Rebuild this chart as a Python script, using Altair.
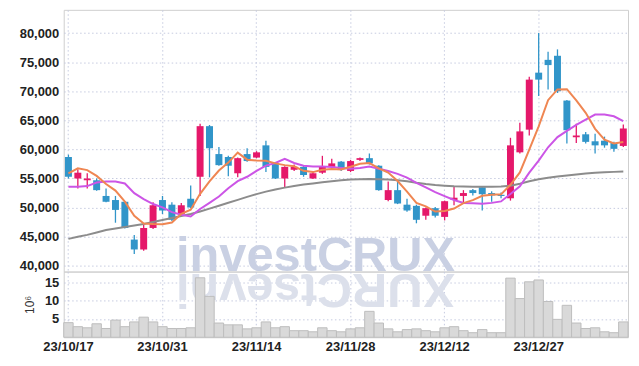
import altair as alt
import pandas as pd

dates = [
    "23/10/17", "23/10/18", "23/10/19", "23/10/20", "23/10/23", "23/10/24", "23/10/25", "23/10/26", "23/10/27", "23/10/30",
    "23/10/31", "23/11/01", "23/11/02", "23/11/03", "23/11/06", "23/11/07", "23/11/08", "23/11/09", "23/11/10", "23/11/13",
    "23/11/14", "23/11/15", "23/11/16", "23/11/17", "23/11/20", "23/11/21", "23/11/22", "23/11/23", "23/11/24", "23/11/27",
    "23/11/28", "23/11/29", "23/11/30", "23/12/01", "23/12/04", "23/12/05", "23/12/06", "23/12/07", "23/12/08", "23/12/11",
    "23/12/12", "23/12/13", "23/12/14", "23/12/15", "23/12/18", "23/12/19", "23/12/20", "23/12/21", "23/12/22", "23/12/26",
    "23/12/27", "23/12/28", "24/01/02", "24/01/03", "24/01/04", "24/01/05", "24/01/08", "24/01/09", "24/01/10", "24/01/11",
]
tick_labels = ["23/10/17", "23/10/31", "23/11/14", "23/11/28", "23/12/12", "23/12/27"]

opens = [58700, 55000, 54700, 54700, 52000, 51300, 51000, 44500, 42800, 46500,
         51300, 50500, 48900, 51500, 55300, 64000, 59200, 58700, 55900, 59200,
         58600, 60700, 57600, 55000, 56500, 57000, 55000, 56000, 57000, 57900,
         56300, 58200, 58500, 57200, 51300, 53000, 50500, 50300, 48600, 49900,
         48400, 51300, 52000, 53000, 53500, 52500, 52200, 51600, 59500, 63400,
         73200, 75400, 76100, 68400, 62100, 62600, 61400, 61500, 61100, 60600]
highs = [59100, 56600, 55900, 55000, 53300, 52000, 51100, 45300, 47000, 50900,
         52000, 50900, 50800, 53800, 64400, 64200, 60400, 58900, 58600, 60200,
         59700, 61500, 57700, 57100, 57400, 57200, 56100, 58900, 58400, 58000,
         58200, 58600, 59300, 57300, 54500, 54600, 51500, 50500, 50000, 50100,
         51200, 53600, 53000, 53200, 53500, 52800, 52600, 62000, 64600, 72500,
         80000, 76800, 77200, 68500, 64400, 63000, 62700, 62200, 61300, 64300]
lows = [55000, 53300, 53300, 52900, 50900, 47400, 46400, 42000, 42600, 46300,
        48900, 47700, 48700, 49900, 52000, 55200, 57200, 55400, 55200, 57900,
        58500, 56100, 54900, 53500, 56300, 55300, 54900, 55800, 56800, 56300,
        56100, 58000, 57400, 52900, 51100, 50600, 49300, 47300, 47900, 48300,
        47800, 50400, 50900, 52100, 49500, 51000, 51600, 51200, 59300, 62400,
        69200, 70300, 69700, 61000, 61100, 61000, 59300, 60300, 59600, 60400]
closes = [55300, 56000, 55000, 53000, 51000, 49600, 46500, 42800, 46500, 50400,
          49500, 47900, 50400, 50000, 64000, 60200, 57300, 57200, 58500, 58000,
          59500, 57000, 55000, 57000, 57000, 55600, 55900, 57000, 57600, 56600,
          58000, 58500, 57600, 53000, 53000, 50700, 49500, 47900, 49900, 48600,
          51100, 51700, 52500, 52500, 52300, 52100, 52000, 60700, 63100, 72000,
          72000, 74500, 70000, 63300, 62400, 61300, 60700, 60700, 60100, 63600]
ma5 = [55900, 56750, 56450, 55450, 54060, 52920, 51020, 48580, 47280, 47160,
       47140, 47420, 48940, 49640, 52360, 54500, 56380, 57740, 59440, 58240,
       58100, 58040, 57600, 57300, 57100, 56320, 56100, 56500, 56620, 56540,
       57020, 57540, 57660, 56740, 56020, 54560, 52760, 50820, 50200, 49320,
       49400, 49840, 50760, 51280, 52020, 52220, 52280, 53920, 56040, 59980,
       63960, 68460, 70320, 70360, 68440, 66300, 63540, 61680, 61040, 61280]
ma10 = [53600, 53600, 53700, 54300, 54480, 54480, 54140, 52480, 51460, 50610,
        50030, 49220, 48760, 48460, 49760, 50820, 51900, 53340, 54540, 55300,
        56300, 57210, 57670, 58370, 57670, 57210, 57070, 57050, 56960, 56820,
        56670, 56820, 57080, 56680, 56280, 55790, 55150, 54240, 53470, 52670,
        51980, 51300, 50790, 50740, 50670, 50810, 51060, 52340, 53660, 56000,
        58090, 60370, 62120, 63200, 64210, 65130, 66000, 66000, 65700, 64860]
ma60 = [44620, 44970, 45310, 45730, 46160, 46420, 46670, 46930, 47190, 47530,
        47870, 48210, 48550, 48900, 49320, 49820, 50320, 50830, 51320, 51840,
        52310, 52740, 53120, 53430, 53720, 53960, 54160, 54370, 54540, 54710,
        54830, 54880, 54910, 54880, 54830, 54710, 54540, 54280, 54060, 53890,
        53770, 53680, 53630, 53600, 53580, 53580, 53630, 53770, 54110, 54540,
        54880, 55130, 55340, 55510, 55680, 55850, 55970, 56070, 56140, 56190]
volumes = [4.0, 2.9, 2.6, 3.7, 2.4, 4.7, 2.9, 4.2, 5.5, 4.2,
           2.9, 2.4, 2.4, 2.6, 16.3, 11.2, 3.9, 3.4, 3.4, 2.3,
           2.6, 4.2, 2.6, 2.9, 1.8, 1.8, 1.5, 2.6, 1.8, 1.5,
           2.3, 2.6, 7.1, 3.9, 2.3, 1.5, 2.1, 2.3, 1.8, 1.5,
           2.6, 2.9, 1.8, 1.25, 2.1, 1.25, 1.25, 16.2, 10.6, 15.2,
           15.7, 9.8, 4.9, 8.75, 3.9, 2.4, 2.6, 1.5, 1.25, 4.2]
price_ticks = [40000, 45000, 50000, 55000, 60000, 65000, 70000, 75000, 80000]
vol_ticks = [5, 10, 15]
watermark = ["investCRUX"]

df = pd.DataFrame({
    "date": dates, "open": opens, "high": highs, "low": lows, "close": closes,
    "ma5": ma5, "ma10": ma10, "ma60": ma60, "vol": volumes,
})
wm = pd.DataFrame({"t": watermark, "r": [w[::-1] for w in watermark]})

RED = "#e5186a"
BLUE = "#3195c9"
FONT = "Liberation Sans"
W, H1, H2 = 567, 263, 66

xscale = alt.Scale(paddingInner=0, paddingOuter=0)
grid_kw = dict(grid=True, gridColor="#c6cbe0", gridDash=[1.5, 2.5], gridWidth=1)

x_top = alt.X("date:O", sort=None, scale=xscale,
              axis=alt.Axis(values=tick_labels, labels=False, ticks=False, domain=False,
                            title=None, **grid_kw))
x_bot = alt.X("date:O", sort=None, scale=xscale,
              axis=alt.Axis(values=tick_labels, labelAngle=0, ticks=False, domain=False,
                            title=None, labelPadding=3, labelFont=FONT, labelFontSize=13,
                            labelColor="#222222", labelFontWeight="bold", **grid_kw))

pscale = alt.Scale(domain=[39000, 84000], nice=False, zero=False)
yaxis = alt.Axis(values=price_ticks, format=",.0f", title=None, ticks=False, domain=False,
                 labelPadding=5, labelFont=FONT, labelFontSize=13, labelColor="#222222",
                 labelFontWeight="bold", **grid_kw)

def py(field):
    return alt.Y(field, type="quantitative", scale=pscale, axis=yaxis)

color = alt.condition("datum.close >= datum.open", alt.value(RED), alt.value(BLUE))
base = alt.Chart(df)

wm_top = alt.Chart(wm).mark_text(
    font=FONT, fontSize=49, fontWeight="bold", color="#c9d0e3",
    align="center", baseline="alphabetic"
).encode(text="t:N", x=alt.value(253), y=alt.value(262))

wicks = base.mark_rule(strokeWidth=1.3).encode(
    x=x_top, y=py("low"), y2="high:Q", color=color)
bodies = base.mark_bar(width=alt.RelativeBandSize(0.74)).encode(
    x=x_top, y=py("open"), y2="close:Q", color=color)
l60 = base.mark_line(color="#8c8c8c", strokeWidth=2).encode(x=x_top, y=py("ma60"))
l10 = base.mark_line(color="#cc55e6", strokeWidth=2).encode(x=x_top, y=py("ma10"))
l5 = base.mark_line(color="#ef8652", strokeWidth=2).encode(x=x_top, y=py("ma5"))

top = alt.layer(wm_top, wicks, bodies, l60, l10, l5).properties(width=W, height=H1)

wm_bot = alt.Chart(wm).mark_text(
    font=FONT, fontSize=49, fontWeight="bold", color="#dce0eb",
    align="center", baseline="alphabetic", angle=180
).encode(text="r:N", x=alt.value(253), y=alt.value(2))

vbars = base.mark_bar(color="#d9d9d9", stroke="#bdbdbd", strokeWidth=1).encode(
    x=x_bot,
    y=alt.Y("vol:Q", scale=alt.Scale(domain=[0, 18], nice=False),
            axis=alt.Axis(values=vol_ticks, title="10⁶", titleAngle=-90, titleX=-34,
                          titleY=33, titleAlign="center", titleBaseline="middle",
                          titleFont=FONT, titleFontSize=12, titleFontWeight="normal",
                          titleColor="#333333", ticks=False, domain=False, labelPadding=5,
                          labelFont=FONT, labelFontSize=13, labelColor="#222222",
                          labelFontWeight="bold", **grid_kw)),
)
bottom = alt.layer(wm_bot, vbars).properties(width=W, height=H2)

chart = alt.vconcat(top, bottom, spacing=0, bounds="flush").properties(
    padding={"left": 10, "top": 0, "right": 2, "bottom": 2}
).configure_view(stroke="#cfcfcf")

chart.save("out.html", embed_options={"renderer": "svg", "actions": False})
